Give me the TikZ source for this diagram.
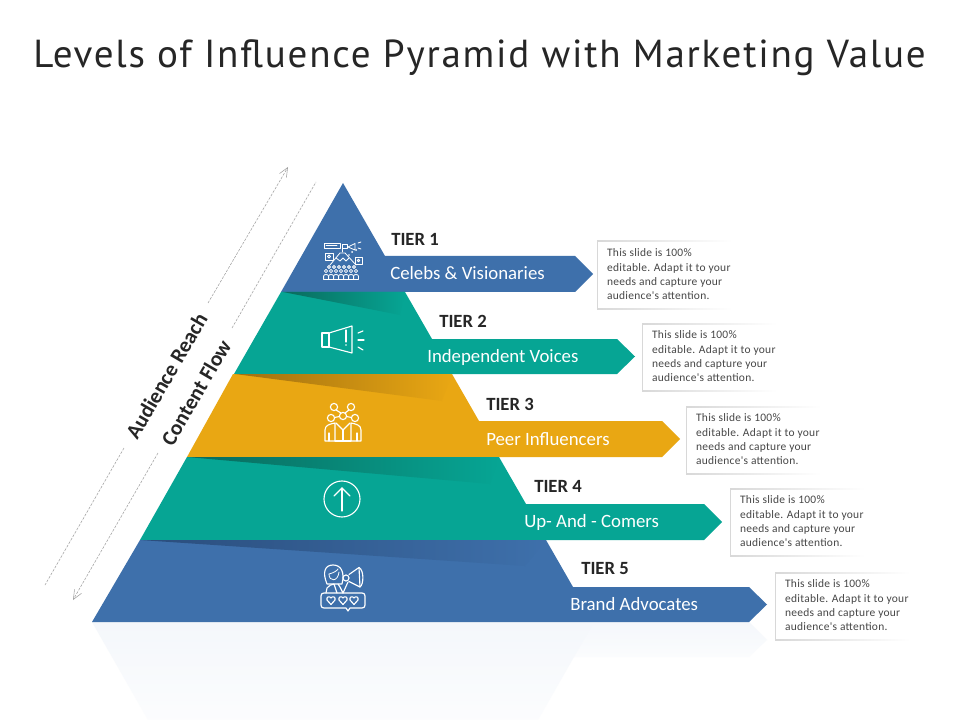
\documentclass[tikz,border=0pt]{standalone}
\usepackage{fontspec}
\setmainfont{Carlito}
\newfontfamily\titlefont[LetterSpace=4.5]{PT Sans}
\newfontfamily\bodyfont[LetterSpace=2.5]{Carlito}
\usetikzlibrary{arrows.meta}
\definecolor{cblue}{HTML}{3E70AB}
\definecolor{cteal}{HTML}{06A594}
\definecolor{cyel}{HTML}{E9A713}
\definecolor{dblue}{HTML}{2A4D7C}
\definecolor{dteal}{HTML}{0A6A5C}
\definecolor{dyel}{HTML}{A06F10}
\definecolor{refl}{HTML}{F4F7FB}
\definecolor{bordergray}{HTML}{D8D8D8}
\definecolor{ink}{HTML}{262626}
\tikzset{
  x=0.75pt,y=-0.75pt,
  tierlabel/.style={font=\fontsize{14}{16}\selectfont\bfseries,text=ink,anchor=base west,inner sep=0pt},
  ribbonlabel/.style={font=\fontsize{14.1}{16}\selectfont,text=white,anchor=base west,inner sep=0pt},
  infotext/.style={font=\bodyfont\fontsize{8.6}{10.75}\selectfont,text=ink!85,anchor=north west,align=left,inner sep=0pt},
  sidelabel/.style={font=\fontsize{16}{18}\selectfont\bfseries,text=ink,rotate=59.8,inner sep=0pt},
  guide/.style={draw=gray!75,line width=0.4pt,dash pattern=on 2pt off 1pt},
  icon/.style={draw=white,line width=0.85pt,line cap=round,line join=round,fill=none},
  iconthin/.style={draw=white,line width=0.6pt,line cap=round,line join=round,fill=none}
}
\newcommand{\infobox}[4]{%
  \shade[left color=bordergray,right color=white] (#1,#2) rectangle (#1+135,#2+1);
  \shade[left color=bordergray,right color=white] (#1,#2+67.5) rectangle (#1+135,#2+68.5);
  \fill[bordergray] (#1,#2) rectangle (#1+1,#2+68.5);
  \node[infotext] (#3) at (#1+9.8,#2+7.5) {#4};
}
\newcommand{\infotxt}{This slide is 100\%\\editable. Adapt it to your\\needs and capture your\\audience's attention.}
\begin{document}
\begin{tikzpicture}
\useasboundingbox (0,0) rectangle (960,720);
\fill[white] (0,0) rectangle (960,720);
% title
\node[font=\titlefont\fontsize{29.3}{32}\selectfont,text=ink,anchor=base west,inner sep=0pt] (title) at (33,68) {Levels of Influence Pyramid with Marketing Value};
% reflection
\shade[top color=refl,bottom color=refl!35!white] (574,622) -- (749,622) -- (767,640) -- (749,657) -- (574,657) -- cycle;
\shade[top color=refl,bottom color=refl!30!white] (92,622) -- (594,622) -- (538,720) -- (148,720) -- cycle;
% tiers
\fill[cblue] (343,183) -- (385,256) -- (575,256) -- (593,274) -- (575,292) -- (281,292) -- cycle;
\fill[cteal] (281,292) -- (405,292) -- (432,339) -- (617,339) -- (635,356.5) -- (617,374) -- (234,374) -- cycle;
\fill[cyel] (233,374) -- (452,374) -- (479,421) -- (662,421) -- (680,439) -- (662,457) -- (187,457) -- cycle;
\fill[cteal] (187,457) -- (499,457) -- (526,504) -- (704,504) -- (722,522) -- (704,540) -- (140,540) -- cycle;
\fill[cblue] (140,540) -- (546,540) -- (573,587) -- (749,587) -- (767,604.5) -- (749,622) -- (92,622) -- cycle;
% folded shadows
\shade[left color=dteal,right color=cteal] (283,292) -- (405,292) -- (400,315) -- cycle;
\shade[left color=dyel,right color=cyel] (235,374) -- (452,374) -- (442,401) -- cycle;
\shade[left color=dteal,right color=cteal] (187,457) -- (499,457) -- (490,484) -- cycle;
\shade[left color=dblue,right color=cblue] (140,540) -- (546,540) -- (525,566) -- cycle;
% side guides
\coordinate (ar1) at (208,303); \coordinate (ar2) at (288,167);
\coordinate (ar3) at (124,448); \coordinate (ar4) at (45,585);
\coordinate (cf1) at (232,328); \coordinate (cf2) at (316,182);
\coordinate (cf3) at (158,453); \coordinate (cf4) at (73,600);
\draw[guide,-{Straight Barb[length=7pt,width=6pt,line width=0.4pt]}] (ar1) -- (ar2);
\draw[guide] (ar3) -- (ar4);
\draw[guide] (cf1) -- (cf2);
\draw[guide,-{Straight Barb[length=7pt,width=6pt,line width=0.4pt]}] (cf3) -- (cf4);
\node[sidelabel] (audience) at (166.5,376) {Audience Reach};
\node[sidelabel] (content) at (196,392.5) {Content Flow};
% labels
\node[tierlabel] (t1) at (391,246) {TIER 1};
\node[tierlabel] (t2) at (439,327.5) {TIER 2};
\node[tierlabel] (t3) at (486,410) {TIER 3};
\node[tierlabel] (t4) at (534,492) {TIER 4};
\node[tierlabel] (t5) at (581,574.5) {TIER 5};
\node[ribbonlabel] (r1) at (390,280) {Celebs \& Visionaries};
\node[ribbonlabel] (r2) at (427,362) {Independent Voices};
\node[ribbonlabel] (r3) at (486,445.5) {Peer Influencers};
\node[ribbonlabel] (r4) at (524,527) {Up- And - Comers};
\node[ribbonlabel] (r5) at (570,610) {Brand Advocates};
% info boxes
\infobox{597}{241}{d1}{\infotxt}
\infobox{642}{323}{d2}{\infotxt}
\infobox{686}{406}{d3}{\infotxt}
\infobox{730}{488}{d4}{\infotxt}
\infobox{775}{572}{d5}{\infotxt}
% icon 1: crowd and mountain
\begin{scope}
\draw[iconthin] (324,243) rectangle (340,248);
\draw[iconthin] (326,245.5) -- (337,245.5);
\draw[iconthin] (342,244) rectangle (347,248);
\draw[iconthin] (348,247) -- (355,243.5) -- (355,250) -- cycle;
\draw[iconthin] (358,243) -- (361,242);
\draw[iconthin] (358,248) -- (361,249);
\draw[iconthin] (342,248) -- (342,252);
\draw[iconthin] (330,265) -- (340,253) -- (345,253) -- (356,265);
\draw[iconthin] (336,258) -- (340,261) -- (343,258) -- (346,261) -- (349,258);
\draw[iconthin] (325,253) rectangle (333,260);
\draw[iconthin] (329,256.5) circle (1.5);
\draw[iconthin] (355,257) rectangle (362,264);
\draw[iconthin] (358.5,260.5) circle (1.3);
\fill[white] (352,252) circle (1) (356,250) circle (1) (349,255) circle (0.9);
\foreach \px in {329,334,339,344,349,354}{
  \draw[iconthin] (\px,267) circle (1.5);
}
\foreach \px in {326,331,336,341,346,351,356}{
  \draw[iconthin] (\px,271) circle (1.6);
}
\foreach \px in {326,331,336,341,346,351,356}{
  \draw[iconthin] (\px-2.4,279) -- (\px-2.4,276) .. controls (\px-2.4,274) and (\px+2.4,274) .. (\px+2.4,276) -- (\px+2.4,279);
}
\draw[iconthin] (323.6,279) -- (358.4,279);
\end{scope}
% icon 2: megaphone
\begin{scope}
\draw[icon] (322,333) rectangle (329,347);
\draw[icon] (329,333) -- (352,326) -- (352,353) -- (329,347);
\draw[icon] (346,330) -- (346,342);
\fill[white] (346,345) circle (0.8);
\draw[icon] (358,333) -- (363,331);
\draw[icon] (358,340) -- (364,340);
\draw[icon] (358,347) -- (363,350);
\end{scope}
% icon 3: people and network
\begin{scope}
\draw[icon] (334,407) circle (3.6);
\draw[icon] (351,407) circle (3.6);
\draw[icon] (343,416) circle (3.6);
\draw[icon] (331,418) circle (3.6);
\draw[icon] (355,418) circle (3.6);
\draw[icon] (336,410) -- (341,413);
\draw[icon] (349,410) -- (345,413);
\draw[icon] (334.5,417.5) -- (339.5,416.5);
\draw[icon] (351.5,417.5) -- (346.5,416.5);
\draw[icon] (325,441) -- (325,430) .. controls (325,425) and (330,424) .. (335,423) -- (335,441) -- cycle;
\draw[icon] (361,441) -- (361,430) .. controls (361,425) and (356,424) .. (351,423) -- (351,441) -- cycle;
\draw[icon] (335,441) -- (351,441);
\draw[icon] (336,423) -- (343,430) -- (350,423);
\draw[icon] (343,430) -- (343,441);
\draw[icon] (329,433) -- (329,441);
\draw[icon] (357,433) -- (357,441);
\end{scope}
% icon 4: arrow in circle
\begin{scope}
\draw[icon] (342,499) circle (18);
\draw[icon] (342,511) -- (342,488);
\draw[icon] (334,496) -- (342,488) -- (350,496);
\end{scope}
% icon 5: woman with megaphone over hearts
\begin{scope}
\draw[icon] (327,584) .. controls (322,572) and (325,565) .. (333,565) .. controls (341,565) and (345,572) .. (342,584) -- cycle;
\draw[iconthin] (329,574) .. controls (333,573) and (337,571) .. (338,569);
\draw[iconthin] (329,574) .. controls (329,582) and (338,582) .. (339,572);
\draw[icon] (326,593) -- (327,588) .. controls (329,585) and (331,585) .. (334,584) -- (337,593);
\draw[icon] (338,584) -- (340,587) -- (343,593);
\draw[icon] (343,593) -- (348,582);
\draw[icon] (346,578) circle (3);
\draw[icon] (349,574.5) -- (359,567.5) -- (360,587) -- (349,581.5);
\draw[icon] (359,567.5) .. controls (364,570) and (364,584) .. (360,587);
\draw[icon] (321,596) .. controls (321,594) and (322,593) .. (324,593) -- (362,593) .. controls (364,593) and (365,594) .. (365,596) -- (365,605) .. controls (365,607) and (364,608) .. (362,608) -- (350,608) -- (348,611) -- (346,608) -- (324,608) .. controls (322,608) and (321,607) .. (321,605) -- cycle;
\foreach \hx in {331,343,354}{
  \draw[icon] (\hx,604.5) -- (\hx-4,600) .. controls (\hx-5,597) and (\hx-1.5,595.5) .. (\hx,598) .. controls (\hx+1.5,595.5) and (\hx+5,597) .. (\hx+4,600) -- cycle;
}
\end{scope}
\end{tikzpicture}
\end{document}
